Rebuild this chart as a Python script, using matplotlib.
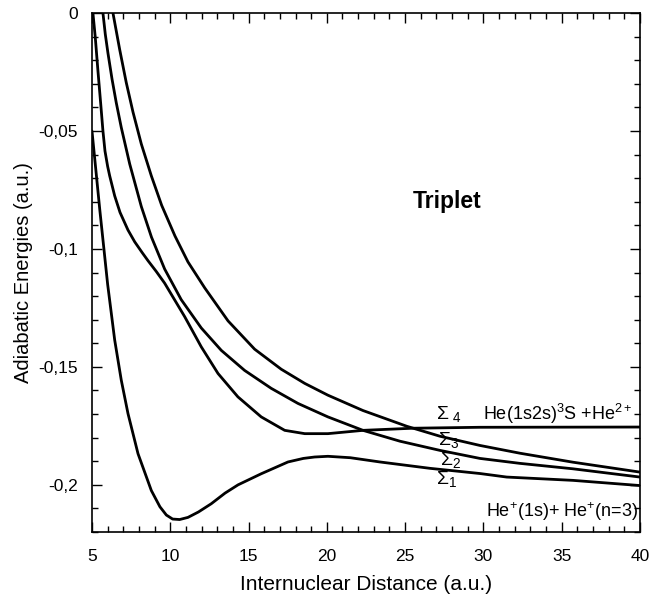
#!/usr/bin/env python

import numpy as np
import matplotlib
matplotlib.use('Agg')
import matplotlib.pyplot as plt
from matplotlib.ticker import MultipleLocator, FuncFormatter

plt.rcParams['font.family'] = ['Liberation Sans', 'DejaVu Sans']
plt.rcParams['mathtext.fontset'] = 'custom'
plt.rcParams['mathtext.rm'] = 'Liberation Sans'

# Potential curves (R in a.u., E in a.u.)
r_s1 = [5.0, 5.5, 6.0, 6.45, 6.87, 7.30, 7.94, 8.79, 9.34, 9.75, 10.15,
        10.6, 11.13, 11.8, 12.62, 13.5, 14.33, 15.81, 17.52, 18.5, 19.22,
        20.07, 21.5, 23.39, 26.59, 29.78, 31.49, 35.72, 40.0]
e_s1 = [-0.0500, -0.0835, -0.1150, -0.1386, -0.1556, -0.1698, -0.1868,
        -0.2024, -0.2093, -0.2128, -0.2145, -0.2147, -0.2138, -0.2115,
        -0.2080, -0.2035, -0.2000, -0.1953, -0.1903, -0.1888, -0.1882,
        -0.1879, -0.1885, -0.1903, -0.1930, -0.1952, -0.1967, -0.1981,
        -0.2003]

r_s2 = [5.06, 5.21, 5.38, 5.56, 5.70, 5.83, 6.0, 6.13, 6.45, 6.79, 7.30,
        7.73, 8.2, 8.58, 9.1, 9.64, 10.92, 11.98, 13.05, 14.32, 15.81, 17.31,
        18.59, 20.07, 22.31, 25.50, 29.78, 40.0]
e_s2 = [0.0, -0.0103, -0.0245, -0.0387, -0.0500, -0.0585, -0.0650, -0.0690,
        -0.0775, -0.0845, -0.0920, -0.0970, -0.1015, -0.1050, -0.1095,
        -0.1145, -0.1287, -0.1415, -0.1528, -0.1627, -0.1712, -0.1769,
        -0.1783, -0.1783, -0.1769, -0.1760, -0.1756, -0.1755]

r_s3 = [5.70, 5.85, 6.02, 6.28, 6.55, 6.87, 7.41, 8.15, 8.8, 9.64, 10.70,
        11.98, 13.26, 14.75, 16.45, 18.16, 20.07, 22.31, 24.67, 27.23, 29.78,
        32.34, 35.72, 40.0]
e_s3 = [0.0, -0.0090, -0.0170, -0.0280, -0.0380, -0.0485, -0.0640, -0.0820,
        -0.0950, -0.1085, -0.1215, -0.1335, -0.1430, -0.1515, -0.1591,
        -0.1655, -0.1712, -0.1769, -0.1815, -0.1854, -0.1888, -0.1909,
        -0.1932, -0.1967]

r_s4 = [6.34, 6.77, 7.19, 7.62, 8.15, 8.79, 9.45, 10.30, 11.13, 12.20, 13.69,
        15.39, 17.09, 18.59, 20.07, 22.31, 25.12, 27.23, 29.78, 32.34, 35.72,
        40.0]
e_s4 = [0.0, -0.0155, -0.0295, -0.0420, -0.0555, -0.0690, -0.0815, -0.0945,
        -0.1055, -0.1165, -0.1305, -0.1425, -0.1510, -0.1570, -0.1620,
        -0.1685, -0.1752, -0.1794, -0.1833, -0.1866, -0.1904, -0.1946]

fig = plt.figure(figsize=(6.51, 6.03), dpi=100)
ax = fig.add_axes([0.1413, 0.1177, 0.8417, 0.8607])

for r, e in [(r_s1, e_s1), (r_s2, e_s2), (r_s3, e_s3), (r_s4, e_s4)]:
    ax.plot(r, e, color='black', lw=2.0, solid_joinstyle='round',
            solid_capstyle='round')

ax.set_xlim(5, 40)
ax.set_ylim(-0.22, 0)
ax.xaxis.set_major_locator(MultipleLocator(5))
ax.xaxis.set_minor_locator(MultipleLocator(1))
ax.yaxis.set_major_locator(MultipleLocator(0.05))
ax.yaxis.set_minor_locator(MultipleLocator(0.01))
ax.yaxis.set_major_formatter(FuncFormatter(
    lambda v, p: '0' if abs(v) < 1e-9 else ('%g' % round(v, 3)).replace('.', ',')))
ax.tick_params(which='both', direction='in', top=True, right=True,
               labelsize=12.5, width=1)
ax.tick_params(which='major', length=7)
ax.tick_params(axis='x', which='major', pad=12)
ax.tick_params(axis='y', which='major', pad=10)
ax.tick_params(which='minor', length=4)
for s in ax.spines.values():
    s.set_linewidth(1.2)

ax.set_xlabel('Internuclear Distance (a.u.)', fontsize=15, labelpad=8)
ax.set_ylabel('Adiabatic Energies (a.u.)', fontsize=14.5, labelpad=4)

ax.text(27.67, -0.0797, 'Triplet', fontsize=16.5, fontweight='bold',
        ha='center', va='center')

ax.text(27.0, -0.1722, r'$\Sigma_{\ 4}$', fontsize=14, ha='left', va='baseline')
ax.text(27.1, -0.1833, r'$\Sigma_3$', fontsize=14, ha='left', va='baseline')
ax.text(27.2, -0.1918, r'$\Sigma_2$', fontsize=14, ha='left', va='baseline')
ax.text(27.0, -0.1998, r'$\Sigma_1$', fontsize=14, ha='left', va='baseline')

ax.text(30.0, -0.1700, r'He(1s2s)$^3$S +He$^{2+}$', fontsize=13,
        ha='left', va='center')
ax.text(39.85, -0.2115, r'He$^{+}$(1s)+ He$^{+}$(n=3)', fontsize=13,
        ha='right', va='center')

fig.savefig('out.png', dpi=100)
